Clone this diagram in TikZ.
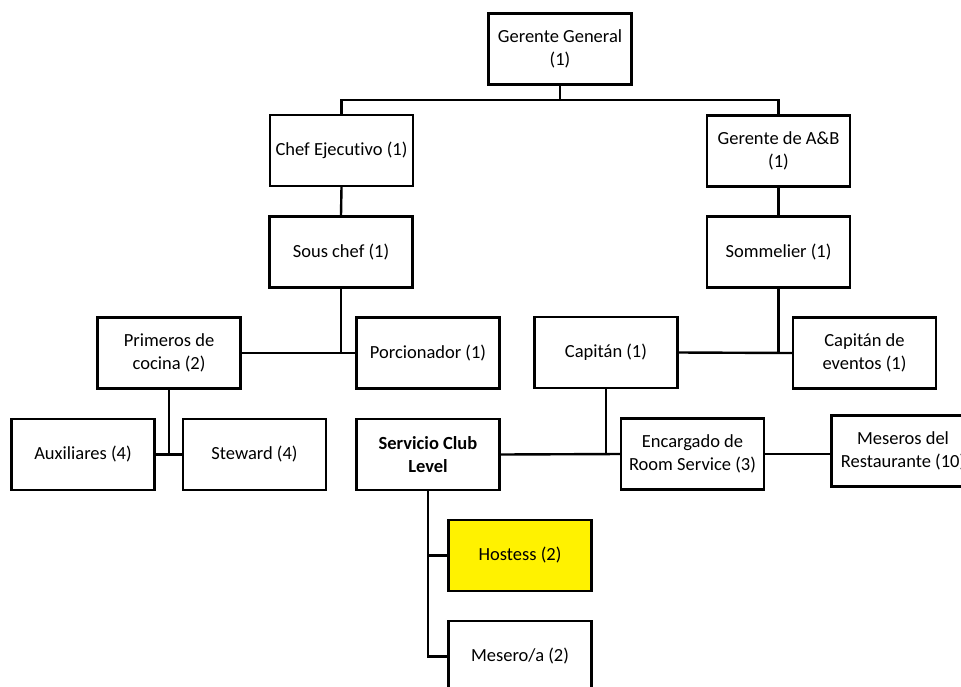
\documentclass[tikz,border=0pt]{standalone}
\usepackage{fontspec}
\setmainfont{Carlito}[Ligatures=NoCommon]
\begin{document}
\begin{tikzpicture}[x=1pt,y=-1pt,
  orgbox/.style={draw=black, line width=2.4pt, fill=white, minimum width=143pt,
    minimum height=71pt, inner sep=2pt, align=center,
    font=\fontsize{18.5}{22.6}\selectfont},
  hilite/.style={orgbox, fill=yellow},
  link/.style={line width=2.4pt, draw=black}]
\useasboundingbox (0,0) rectangle (961,686);
\clip (0,0) rectangle (961,686);

% boxes
\node[orgbox] (gg)    at (560,49)    {Gerente General\\(1)};
\node[orgbox] (chef)  at (341.5,150.5) {Chef Ejecutivo (1)};
\node[orgbox] (ab)    at (778.5,151) {Gerente de A\&B\\(1)};
\node[orgbox] (sous)  at (341,252)   {Sous chef (1)};
\node[orgbox] (somm)  at (778.5,252) {Sommelier (1)};
\node[orgbox] (prim)  at (169,353)   {Primeros de\\cocina (2)};
\node[orgbox] (porc)  at (428,353)   {Porcionador (1)};
\node[orgbox] (cap)   at (606,352.5) {Capitán (1)};
\node[orgbox] (capev) at (864.5,353) {Capitán de\\eventos (1)};
\node[orgbox] (aux)   at (83,454.5)  {Auxiliares (4)};
\node[orgbox] (stew)  at (254.5,454.5) {Steward (4)};
\node[orgbox] (scl)   at (428,454.5) {\bfseries Servicio Club\\\bfseries Level};
\node[orgbox] (enc)   at (692.5,454) {Encargado de\\Room Service (3)};
\node[orgbox] (mes)   at (903,451)   {Meseros del\\Restaurante (10)};
\node[hilite] (host)  at (520,555.5) {Hostess (2)};
\node[orgbox] (mesa)  at (520,656.5) {Mesero/a (2)};

% connectors
\coordinate (bar) at (560,100);
\draw[link] (gg.south) -- (bar);
\draw[link] (chef.north) |- (bar) -| (ab.north);
\draw[link] (chef.south) -- (sous.north);
\draw[link] (ab.south) -- (somm.north);
\draw[link] (sous.south) -- (sous.south |- prim.east);
\draw[link] (prim.east) -- (porc.west);
\draw[link] (somm.south) -- (somm.south |- cap.east);
\draw[link] (cap.east) -- (capev.west);
\draw[link] (prim.south) -- (prim.south |- aux.east);
\draw[link] (aux.east) -- (stew.west);
\draw[link] (cap.south) -- (cap.south |- scl.east);
\draw[link] (scl.east) -- (enc.west);
\draw[link] (enc.east) -- (enc.east -| mes.west);
\draw[link] (scl.south) |- (mesa.west);
\draw[link] (scl.south |- host.west) -- (host.west);
\end{tikzpicture}
\end{document}
